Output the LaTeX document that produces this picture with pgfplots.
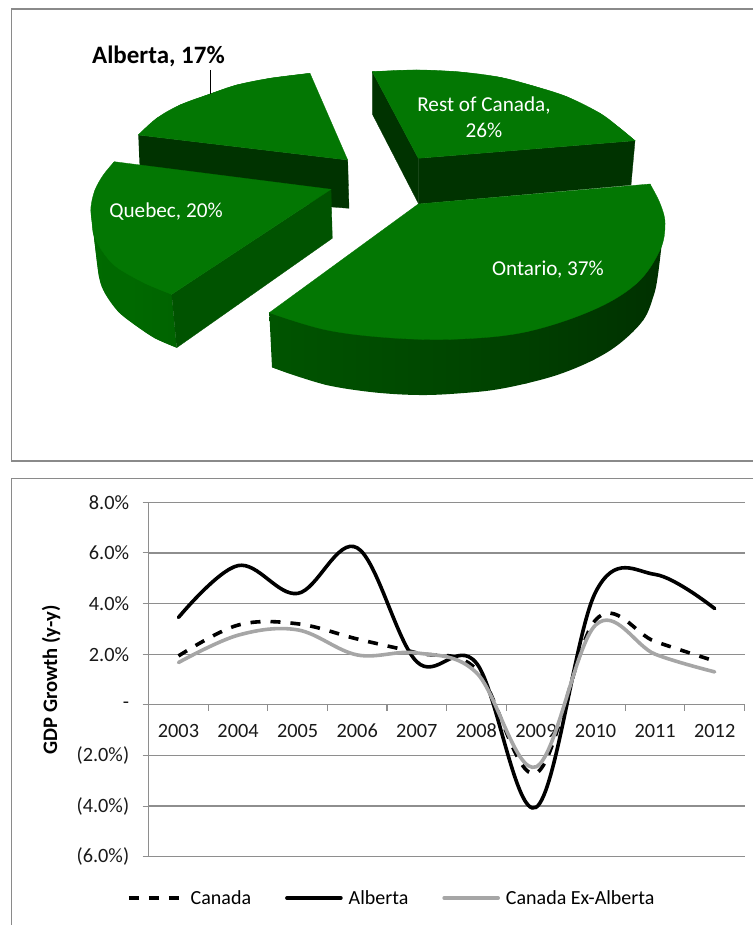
\documentclass[border=0pt]{standalone}
\usepackage{fontspec}
\setmainfont{Carlito}
\usepackage{pgfplots}
\pgfplotsset{compat=1.18}

\definecolor{topgreen}{HTML}{037703}
\definecolor{darkside}{HTML}{003300}
\definecolor{midside}{HTML}{005300}
\definecolor{framegray}{HTML}{8A8A8A}
\definecolor{gridgray}{HTML}{8E8E8E}
\definecolor{exgray}{HTML}{A6A6A6}

% Horizontal shadings for the rims of the Ontario and Quebec slices
\pgfdeclarehorizontalshading{ontariorim}{100bp}{
  rgb(0bp)=(0,0.38,0);
  rgb(25bp)=(0,0.33,0);
  rgb(50bp)=(0,0.27,0);
  rgb(75bp)=(0,0.19,0);
  rgb(100bp)=(0,0.20,0)}
\pgfdeclarehorizontalshading{quebecrim}{100bp}{
  rgb(0bp)=(0,0.42,0);
  rgb(50bp)=(0,0.41,0);
  rgb(100bp)=(0,0.37,0)}

\pgfplotsset{
  facet/.style={draw=#1, line width=0.3pt, fill=#1, forget plot},
  rim/.style={draw=none, shade, shading=#1, forget plot},
}

\begin{document}
\begin{tikzpicture}
\path[use as bounding box] (0,0) rectangle (753pt,925pt);

% Exploded 3-D pie, laid out on the full canvas in pixel coordinates
\begin{axis}[
  at={(0pt,0pt)}, anchor=south west,
  width=753pt, height=925pt, scale only axis,
  xmin=0, xmax=753, ymin=0, ymax=925, y dir=reverse,
  hide axis, clip=false,
]
% panel frames
\addplot[framegray, line width=1.3pt, forget plot] coordinates {(753,9) (11.7,9) (11.7,461) (753,461)};
\addplot[framegray, line width=1.3pt, forget plot] coordinates {(753,478.5) (11.7,478.5) (11.7,925)};

% Alberta, 17%
\addplot[facet=darkside] coordinates {(138.3,135) (347.7,160) (349,208.3) (332,207) (140,175)};
\addplot[facet=topgreen, smooth, tension=0.6] coordinates {(138.3,135) (156.7,118.3) (180,105) (210,94) (236.7,85) (270,78.3) (310,73.3)};
\addplot[facet=topgreen] coordinates {(138.3,135) (156.7,118.3) (180,105) (210,94) (236.7,85) (270,78.3) (310,73.3) (347.7,160)} -- cycle;

% Quebec, 20%
\addplot[rim=quebecrim, smooth, tension=0.6] coordinates {(91,206.7) (91,213.3) (94.3,240) (99,276.7) (105,293.3) (118.3,311.7) (135,325) (155,338.3) (176.7,347.7)};
\addplot[rim=quebecrim] coordinates {(91,206.7) (94.3,240) (99,276.7) (105,293.3) (118.3,311.7) (135,325) (155,338.3) (176.7,347.7) (171.7,294.3)} -- cycle;
\addplot[facet=midside] coordinates {(331,189.3) (171.7,294.3) (176.7,347.7) (332.3,238.3)} -- cycle;
\addplot[facet=topgreen, smooth, tension=0.6] coordinates {(114.3,161.7) (103.3,175) (95,190) (91,206.7) (92,222) (94.3,236.7) (105,255) (118.3,268.3) (145,283.3) (171.7,294.3)};
\addplot[facet=topgreen] coordinates {(114.3,161.7) (95,190) (92,222) (105,255) (118.3,268.3) (145,283.3) (171.7,294.3) (331,189.3)} -- cycle;

% Rest of Canada, 26%
\addplot[facet=darkside] coordinates {(372.3,71.7) (418.3,158.3) (418.3,203.3) (372.3,114)} -- cycle;
\addplot[facet=darkside] coordinates {(418.3,158.3) (635,140.7) (631,185) (418.3,204)} -- cycle;
\addplot[facet=topgreen, smooth, tension=0.6] coordinates {(372.3,71.7) (416.7,70) (460,72) (500,77.3) (533.3,86) (566.7,96.7) (600,113.3) (620,128.3) (635,140.7)};
\addplot[facet=topgreen] coordinates {(372.3,71.7) (416.7,70) (460,72) (500,77.3) (533.3,86) (566.7,96.7) (600,113.3) (620,128.3) (635,140.7) (418.3,158.3)} -- cycle;

% Ontario, 37%
\addplot[rim=ontariorim, smooth, tension=0.6] coordinates {(272,367.3) (293.3,375) (326.7,385) (360,390.7) (393.3,394) (426.7,395) (460,393.3) (493.3,390) (526.7,383.3) (560,374) (593.3,360) (620,343.3) (643.3,320) (653.3,296.7) (657.7,276.7) (663,233)};
\addplot[rim=ontariorim] coordinates {(269.3,312.7) (272,367.3) (326.7,385) (426.7,395) (526.7,383.3) (593.3,360) (643.3,320) (663,233) (665,223.3)} -- cycle;
\addplot[facet=topgreen, smooth, tension=0.6] coordinates {(650,184) (660,203.3) (665,223.3) (660,250) (636.7,283.3) (593,310) (526.7,331.7) (460,339) (393.3,338) (326.7,330) (269.3,312.7)};
\addplot[facet=topgreen] coordinates {(418.3,204) (650,184) (665,223.3) (636.7,283.3) (526.7,331.7) (393.3,338) (269.3,312.7)} -- cycle;

% Slice labels
\addplot[black, line width=0.9pt, forget plot] coordinates {(210,70) (210,94)};
\node[font=\bfseries\fontsize{25}{27}\selectfont, anchor=center] at (axis cs:158.5,56) {Alberta, 17\%};
\node[text=white, font=\fontsize{21.2}{24}\selectfont, anchor=center] at (axis cs:166,212) {Quebec, 20\%};
\node[text=white, font=\fontsize{21.2}{25.5}\selectfont, align=center, anchor=center] at (axis cs:484,117) {Rest of Canada,\\26\%};
\node[text=white, font=\fontsize{21.2}{24}\selectfont, anchor=center] at (axis cs:548,270) {Ontario, 37\%};
\end{axis}

% GDP growth lines
\begin{axis}[
  at={(148.7pt,68.3pt)}, anchor=south west,
  width=595.8pt, height=354.4pt, scale only axis,
  xmin=0, xmax=10, ymin=-6, ymax=8,
  axis x line=middle, axis y line=left,
  axis line style={gridgray, line width=1.3pt, -},
  hide obscured x ticks=false,
  xtick={0,...,10},
  x tick label as interval,
  xticklabels={2003,2004,2005,2006,2007,2008,2009,2010,2011,2012},
  ytick={-6,-4,-2,0,2,4,6,8},
  yticklabels={(6.0\%),(4.0\%),(2.0\%),-,2.0\%,4.0\%,6.0\%,8.0\%},
  tick align=outside,
  major tick length=6pt,
  tick style={gridgray, line width=1.1pt},
  ymajorgrids,
  grid style={gridgray, line width=1.3pt},
  tick label style={font=\fontsize{20.3}{24}\selectfont, text=black!90},
  xticklabel style={yshift=-9pt, text height=14pt, text depth=0pt, anchor=north},
  yticklabel style={xshift=-10pt},
  ylabel={GDP Growth (y-y)},
  every axis y label/.style={at={(axis description cs:-0.164,0.4986)}, rotate=90, anchor=center, font=\bfseries\fontsize{20.6}{24}\selectfont},
  legend columns=3,
  legend style={
    at={(axis description cs:0.408,-0.1165)}, anchor=center, draw=none, fill=none,
    font=\fontsize{20}{24}\selectfont,
    inner sep=0pt,
    /tikz/every odd column/.append style={column sep=4pt},
    /tikz/every even column/.append style={column sep=32pt},
  },
  legend image code/.code={\draw[#1] (0,0) -- (54pt,0);},
  clip=false,
]
\addplot[black, line width=3.6pt, smooth, tension=0.6, dash pattern=on 10pt off 10pt] coordinates {
  (0.5,1.93) (1.5,3.15) (2.5,3.2) (3.5,2.6) (4.5,2.05) (5.5,1.4) (6.5,-2.7) (7.5,3.35) (8.5,2.5) (9.5,1.73)};
\addlegendentry{Canada}
\addplot[black, line width=3.6pt, smooth, tension=0.6, line cap=round] coordinates {
  (0.5,3.45) (1.5,5.5) (2.5,4.4) (3.5,6.2) (4.5,1.7) (5.5,1.65) (6.5,-4.05) (7.5,4.45) (8.5,5.15) (9.5,3.8)};
\addlegendentry{Alberta}
\addplot[exgray, line width=3.6pt, smooth, tension=0.6, line cap=round] coordinates {
  (0.5,1.67) (1.5,2.75) (2.5,2.96) (3.5,1.97) (4.5,2.05) (5.5,1.27) (6.5,-2.45) (7.5,3.15) (8.5,2.0) (9.5,1.3)};
\addlegendentry{Canada Ex-Alberta}
\end{axis}
\end{tikzpicture}
\end{document}
